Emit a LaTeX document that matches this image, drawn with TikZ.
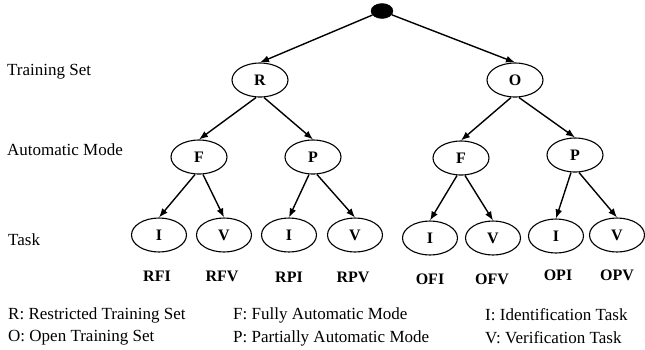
\documentclass[tikz,border=0pt]{standalone}
\usepackage{fontspec}
\setmainfont{Liberation Serif}
\usetikzlibrary{shapes.geometric,arrows.meta}
\begin{document}
\begin{tikzpicture}[x=1pt,y=-1pt,
  tnode/.style={draw,ellipse,line width=1.1pt,minimum width=56pt,minimum height=34pt,inner sep=0pt,font=\fontsize{16}{16}\selectfont\bfseries},
  lnode/.style={draw,ellipse,line width=1.1pt,minimum width=55pt,minimum height=34pt,inner sep=0pt,font=\fontsize{16}{16}\selectfont\bfseries},
  edge/.style={line width=1.4pt,-{Latex[length=9pt,width=7pt]}},
  side/.style={anchor=west,inner sep=0pt,font=\fontsize{17}{17}\selectfont},
  combo/.style={inner sep=0pt,font=\fontsize{16}{16}\selectfont\bfseries},
  legend/.style={anchor=west,inner sep=0pt,font=\fontsize{17}{17}\selectfont}]
\useasboundingbox (0,0) rectangle (645,349);
\node[draw,ellipse,fill=black,minimum width=22pt,minimum height=15pt,inner sep=0pt] (root) at (382,11) {};
\node[tnode] (R) at (260,80) {R};
\node[tnode] (O) at (515,80) {O};
\node[tnode] (F1) at (199,157) {F};
\node[tnode] (P1) at (313,157) {P};
\node[tnode] (F2) at (461,158) {F};
\node[tnode] (P2) at (575,155) {P};
\node[lnode] (I1) at (159,235) {I};
\node[lnode] (V1) at (224,235) {V};
\node[lnode] (I2) at (289,235) {I};
\node[lnode] (V2) at (355,235) {V};
\node[lnode] (I3) at (430,238) {I};
\node[lnode] (V3) at (493,238) {V};
\node[lnode] (I4) at (556,236) {I};
\node[lnode] (V4) at (617,235) {V};
\draw[edge] (root) -- (R.north);
\draw[edge] (root) -- (O.north);
\foreach \p/\a/\b in {R/F1/P1, O/F2/P2, F1/I1/V1, P1/I2/V2, F2/I3/V3, P2/I4/V4}{
  \draw[edge] ([xshift=-4pt]\p.south) -- (\a.north);
  \draw[edge] ([xshift=4pt]\p.south) -- (\b.north);
}
\node[side] (ts) at (7,72) {Training Set};
\node[side] (am) at (7,150) {Automatic Mode};
\node[side] (tk) at (8,240) {Task};
\node[combo] (c1) at (157,276) {RFI};
\node[combo] (c2) at (222,276) {RFV};
\node[combo] (c3) at (289,277) {RPI};
\node[combo] (c4) at (353,277) {RPV};
\node[combo] (c5) at (430,279) {OFI};
\node[combo] (c6) at (492,279) {OFV};
\node[combo] (c7) at (558,275) {OPI};
\node[combo] (c8) at (617,275) {OPV};
\node[legend] (l1) at (8,315) {R: Restricted Training Set};
\node[legend] (l2) at (8,338) {O: Open Training Set};
\node[legend] (l3) at (233,315) {F: Fully Automatic Mode};
\node[legend] (l4) at (233,338) {P: Partially Automatic Mode};
\node[legend] (l5) at (485,315) {I: Identification Task};
\node[legend] (l6) at (485,338) {V: Verification Task};
\end{tikzpicture}
\end{document}
